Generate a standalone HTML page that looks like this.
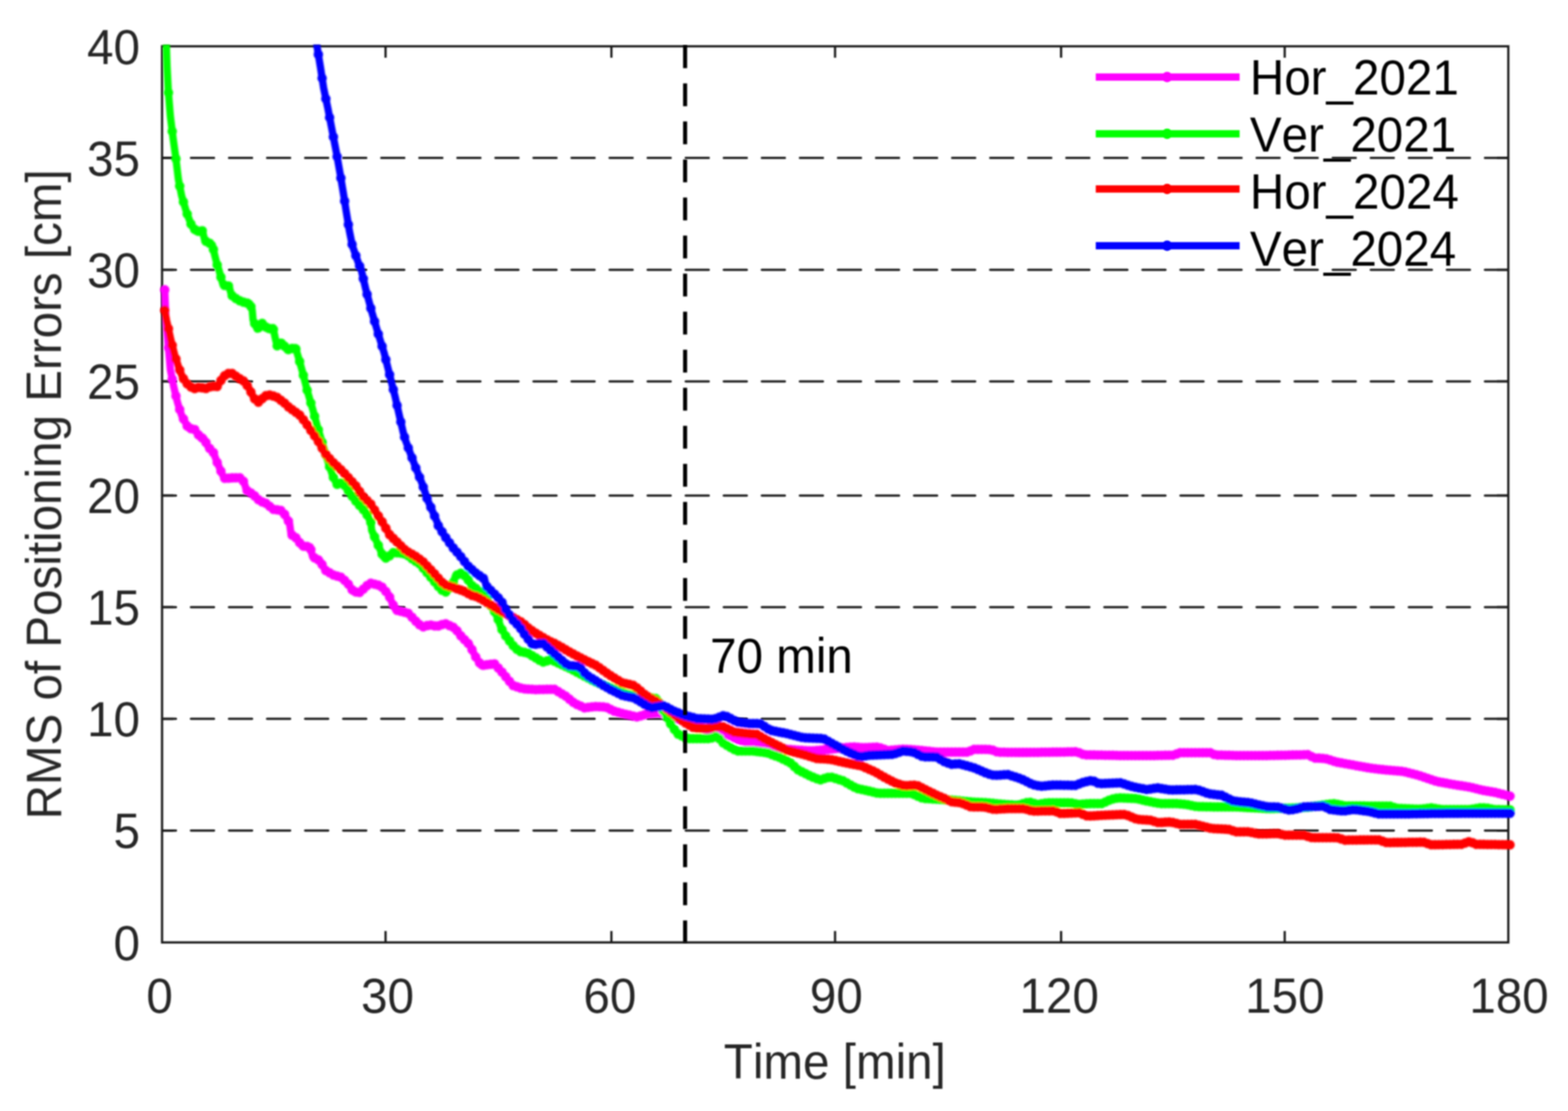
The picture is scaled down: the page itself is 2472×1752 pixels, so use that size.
<!DOCTYPE html>
<html lang="en">
<head>
<meta charset="utf-8">
<title>RMS of Positioning Errors</title>
<style>
html,body{margin:0;padding:0;background:#fff;}
body{width:2472px;height:1752px;overflow:hidden;}
svg{display:block;}
text{font-family:"Liberation Sans", sans-serif;font-size:75px;fill:#262626;font-kerning:none;font-variant-ligatures:none;}
.k{fill:#000;}
</style>
</head>
<body>
<svg width="2472" height="1752" viewBox="0 0 2472 1752">
<defs>
<clipPath id="plot"><rect x="243.5" y="70.5" width="2146.4" height="1425.2"/></clipPath>
<filter id="soft" x="0" y="0" width="2472" height="1752" filterUnits="userSpaceOnUse"><feGaussianBlur stdDeviation="1.0"/></filter>
<filter id="soft2" x="0" y="0" width="2472" height="1752" filterUnits="userSpaceOnUse"><feGaussianBlur stdDeviation="1.6"/></filter>
</defs>
<rect x="0" y="0" width="2472" height="1752" fill="#ffffff"/>
<g filter="url(#soft)">
<g stroke="#1a1a1a" stroke-width="3.5" fill="none">
<line x1="255.5" y1="1309.8" x2="2377.9" y2="1309.8" stroke-linecap="round" stroke-dasharray="36.5 23.5" stroke-dashoffset="14.5"/>
<line x1="255.5" y1="1133.6" x2="2377.9" y2="1133.6" stroke-linecap="round" stroke-dasharray="36.5 23.5" stroke-dashoffset="14.5"/>
<line x1="255.5" y1="957.4" x2="2377.9" y2="957.4" stroke-linecap="round" stroke-dasharray="36.5 23.5" stroke-dashoffset="14.5"/>
<line x1="255.5" y1="781.4" x2="2377.9" y2="781.4" stroke-linecap="round" stroke-dasharray="36.5 23.5" stroke-dashoffset="14.5"/>
<line x1="255.5" y1="601.4" x2="2377.9" y2="601.4" stroke-linecap="round" stroke-dasharray="36.5 23.5" stroke-dashoffset="14.5"/>
<line x1="255.5" y1="425.5" x2="2377.9" y2="425.5" stroke-linecap="round" stroke-dasharray="36.5 23.5" stroke-dashoffset="14.5"/>
<line x1="255.5" y1="249.0" x2="2377.9" y2="249.0" stroke-linecap="round" stroke-dasharray="36.5 23.5" stroke-dashoffset="14.5"/>
</g>
<g stroke="#1a1a1a" stroke-width="3.5" fill="none">
<line x1="607.8" y1="1486.2" x2="607.8" y2="1468.2"/>
<line x1="607.8" y1="73.0" x2="607.8" y2="91.0"/>
<line x1="963.9" y1="1486.2" x2="963.9" y2="1468.2"/>
<line x1="963.9" y1="73.0" x2="963.9" y2="91.0"/>
<line x1="1316.5" y1="1486.2" x2="1316.5" y2="1468.2"/>
<line x1="1316.5" y1="73.0" x2="1316.5" y2="91.0"/>
<line x1="1672.8" y1="1486.2" x2="1672.8" y2="1468.2"/>
<line x1="1672.8" y1="73.0" x2="1672.8" y2="91.0"/>
<line x1="2025.4" y1="1486.2" x2="2025.4" y2="1468.2"/>
<line x1="2025.4" y1="73.0" x2="2025.4" y2="91.0"/>
<line x1="255.5" y1="1309.8" x2="273.5" y2="1309.8"/>
<line x1="2377.9" y1="1309.8" x2="2359.9" y2="1309.8"/>
<line x1="255.5" y1="1133.6" x2="273.5" y2="1133.6"/>
<line x1="2377.9" y1="1133.6" x2="2359.9" y2="1133.6"/>
<line x1="255.5" y1="957.4" x2="273.5" y2="957.4"/>
<line x1="2377.9" y1="957.4" x2="2359.9" y2="957.4"/>
<line x1="255.5" y1="781.4" x2="273.5" y2="781.4"/>
<line x1="2377.9" y1="781.4" x2="2359.9" y2="781.4"/>
<line x1="255.5" y1="601.4" x2="273.5" y2="601.4"/>
<line x1="2377.9" y1="601.4" x2="2359.9" y2="601.4"/>
<line x1="255.5" y1="425.5" x2="273.5" y2="425.5"/>
<line x1="2377.9" y1="425.5" x2="2359.9" y2="425.5"/>
<line x1="255.5" y1="249.0" x2="273.5" y2="249.0"/>
<line x1="2377.9" y1="249.0" x2="2359.9" y2="249.0"/>
</g>
<rect x="255.5" y="73.0" width="2122.4" height="1413.2" fill="none" stroke="#1a1a1a" stroke-width="3.5"/>
</g>
<g filter="url(#soft2)"><g clip-path="url(#plot)" fill="none" stroke-linejoin="round" stroke-linecap="round">
<polyline stroke="#ff00ff" stroke-width="11.5" points="259.7,457.0 261.6,505.0 265.4,546.6 268.6,583.2 273.8,609.4 280.1,635.6 286.4,655.2 296.9,674.9 307.3,677.5 315.2,689.3 321.7,691.9 328.3,705.0 336.1,712.8 342.7,729.8 350.5,748.2 354.5,754.7 367.5,753.4 379.3,753.4 384.6,759.9 388.5,773.0 399.0,779.6 409.4,790.1 419.9,794.0 430.4,803.1 442.1,804.5 448.7,811.0 456.5,825.1 458.9,842.7 468.1,849.2 475.9,861.0 489.0,862.3 492.9,878.0 504.7,884.6 512.6,899.0 525.7,906.8 538.7,910.7 549.2,921.2 557.1,933.0 567.5,934.3 576.7,925.1 583.2,919.4 600.3,923.8 612.0,936.9 618.6,951.3 623.8,961.8 643.5,967.0 656.5,980.6 665.7,989.0 677.0,985.3 689.3,987.7 701.6,983.2 717.3,990.6 727.2,1003.7 740.3,1016.8 749.5,1035.1 758.6,1049.5 779.6,1046.9 792.7,1061.3 808.4,1080.9 824.1,1086.1 845.0,1087.4 873.8,1086.9 892.1,1097.9 907.9,1111.0 910.5,1111.0 920.9,1116.2 939.3,1114.1 955.0,1114.9 968.1,1121.5 983.8,1125.9 1004.7,1130.6 1020.4,1125.9 1038.7,1124.1 1083.2,1138.5 1122.5,1154.2 1148.7,1159.4 1161.8,1166.0 1174.9,1169.9 1188.0,1171.2 1201.0,1173.8 1240.3,1181.7 1279.6,1184.3 1318.8,1180.4 1345.0,1177.7 1358.1,1179.1 1384.3,1178.3 1400.0,1183.5 1426.2,1181.4 1452.4,1183.5 1478.5,1186.1 1525.7,1186.1 1536.1,1181.7 1562.3,1181.9 1572.8,1186.1 1609.4,1186.6 1661.8,1186.1 1698.4,1185.6 1708.9,1190.3 1766.5,1191.4 1818.8,1191.4 1850.3,1190.8 1860.7,1186.9 1907.9,1186.9 1915.7,1190.6 1949.7,1191.4 2000.0,1191.4 2029.1,1190.8 2063.1,1190.1 2071.0,1195.3 2089.3,1196.1 2107.6,1201.8 2133.8,1206.5 2160.0,1211.3 2186.1,1214.4 2212.3,1216.5 2238.5,1223.3 2264.7,1232.2 2290.8,1237.2 2317.0,1241.1 2338.0,1246.3 2356.3,1249.5 2380.6,1255.5"/>
<path stroke="#ff00ff" stroke-width="15.0" d="M259.7 457.0h0M265.6 548.5h0M271.5 597.9h0M277.4 624.4h0M283.3 645.7h0M289.2 660.6h0M295.1 671.7h0M301.1 675.9h0M307.0 677.4h0M312.9 685.8h0M318.8 690.7h0M324.7 697.8h0M330.6 707.3h0M336.5 713.8h0M342.4 729.2h0M348.3 743.0h0M354.2 754.3h0M360.1 754.1h0M366.0 753.6h0M371.9 753.4h0M377.9 753.4h0M383.8 759.0h0M389.7 773.8h0M395.6 777.5h0M401.5 782.1h0M407.4 788.0h0M413.3 791.5h0M419.2 793.7h0M425.1 798.5h0M431.0 803.2h0M436.9 803.9h0M442.8 805.1h0M448.7 811.1h0M454.7 821.7h0M460.6 843.9h0M466.5 848.1h0M472.4 855.7h0M478.3 861.2h0M484.2 861.8h0M490.1 866.7h0M496.0 879.7h0M501.9 883.0h0M507.8 890.3h0M513.7 899.7h0M519.6 903.2h0M525.6 906.7h0M531.5 908.5h0M537.4 910.3h0M543.3 915.3h0M549.2 921.2h0M555.1 930.0h0M561.0 933.5h0M566.9 934.2h0M572.8 929.0h0M578.7 923.4h0M584.6 919.7h0M590.5 921.3h0M596.4 922.8h0M602.4 926.1h0M608.3 932.7h0M614.2 941.6h0M620.1 954.3h0M626.0 962.4h0M631.9 963.9h0M637.8 965.5h0M643.7 967.3h0M649.6 973.4h0M655.5 979.6h0M661.4 985.1h0M667.3 988.5h0M673.2 986.6h0M679.2 985.8h0M685.1 986.9h0M691.0 987.1h0M696.9 984.9h0M702.8 983.8h0M708.7 986.6h0M714.6 989.3h0M720.5 994.8h0M726.4 1002.6h0M732.3 1008.8h0M738.2 1014.7h0M744.1 1024.4h0M750.0 1036.0h0M756.0 1045.3h0M761.9 1049.1h0M767.8 1048.3h0M773.7 1047.6h0M779.6 1046.9h0M785.5 1053.4h0M791.4 1059.9h0M797.3 1067.1h0M803.2 1074.4h0M809.1 1081.1h0M815.0 1083.1h0M820.9 1085.1h0M826.8 1086.3h0M832.8 1086.7h0M838.7 1087.0h0M844.6 1087.4h0M850.5 1087.3h0M856.4 1087.2h0M862.3 1087.1h0M868.2 1087.0h0M874.1 1087.1h0M880.0 1090.6h0M885.9 1094.2h0M891.8 1097.7h0M897.7 1102.6h0M903.7 1107.5h0M909.6 1111.0h0M915.5 1113.5h0M921.4 1116.2h0M927.3 1115.5h0M933.2 1114.8h0M939.1 1114.2h0M945.0 1114.4h0M950.9 1114.7h0M956.8 1115.8h0M962.7 1118.8h0M968.6 1121.6h0M974.5 1123.3h0M980.5 1125.0h0M986.4 1126.5h0M992.3 1127.8h0M998.2 1129.2h0M1004.1 1130.5h0M1010.0 1129.0h0M1015.9 1127.3h0M1021.8 1125.8h0M1027.7 1125.2h0M1033.6 1124.6h0M1039.5 1124.3h0M1045.4 1126.2h0M1051.3 1128.2h0M1057.3 1130.1h0M1063.2 1132.0h0M1069.1 1133.9h0M1075.0 1135.8h0M1080.9 1137.7h0M1086.8 1139.9h0M1092.7 1142.3h0M1098.6 1144.6h0M1104.5 1147.0h0M1110.4 1149.4h0M1116.3 1151.7h0M1122.2 1154.1h0M1128.1 1155.3h0M1134.1 1156.5h0M1140.0 1157.7h0M1145.9 1158.9h0M1151.8 1161.0h0M1157.7 1163.9h0M1163.6 1166.5h0M1169.5 1168.3h0M1175.4 1169.9h0M1181.3 1170.5h0M1187.2 1171.1h0M1193.1 1172.2h0M1199.0 1173.4h0M1204.9 1174.6h0M1210.9 1175.8h0M1216.8 1177.0h0M1222.7 1178.1h0M1228.6 1179.3h0M1234.5 1180.5h0M1240.4 1181.7h0M1246.3 1182.1h0M1252.2 1182.5h0M1258.1 1182.9h0M1264.0 1183.3h0M1269.9 1183.7h0M1275.8 1184.0h0M1281.7 1184.1h0M1287.7 1183.5h0M1293.6 1182.9h0M1299.5 1182.3h0M1305.4 1181.7h0M1311.3 1181.1h0M1317.2 1180.5h0M1323.1 1179.9h0M1329.0 1179.4h0M1334.9 1178.8h0M1340.8 1178.2h0M1346.7 1177.9h0M1352.6 1178.5h0M1358.6 1179.0h0M1364.5 1178.9h0M1370.4 1178.7h0M1376.3 1178.5h0M1382.2 1178.3h0M1388.1 1179.5h0M1394.0 1181.5h0M1399.9 1183.5h0M1405.8 1183.0h0M1411.7 1182.6h0M1417.6 1182.1h0M1423.5 1181.6h0M1429.4 1181.7h0M1435.4 1182.1h0M1441.3 1182.6h0M1447.2 1183.1h0M1453.1 1183.6h0M1459.0 1184.2h0M1464.9 1184.8h0M1470.8 1185.4h0M1476.7 1185.9h0M1482.6 1186.1h0M1488.5 1186.1h0M1494.4 1186.1h0M1500.3 1186.1h0M1506.2 1186.1h0M1512.2 1186.1h0M1518.1 1186.1h0M1524.0 1186.1h0M1529.9 1184.3h0M1535.8 1181.8h0M1541.7 1181.7h0M1547.6 1181.8h0M1553.5 1181.8h0M1559.4 1181.9h0M1565.3 1183.1h0M1571.2 1185.5h0M1577.1 1186.2h0M1583.0 1186.3h0M1589.0 1186.4h0M1594.9 1186.4h0M1600.8 1186.5h0M1606.7 1186.6h0M1612.6 1186.6h0M1618.5 1186.6h0M1624.4 1186.5h0M1630.3 1186.4h0M1636.2 1186.4h0M1642.1 1186.3h0M1648.0 1186.3h0M1653.9 1186.2h0M1659.8 1186.1h0M1665.8 1186.1h0M1671.7 1186.0h0M1677.6 1185.9h0M1683.5 1185.8h0M1689.4 1185.7h0M1695.3 1185.6h0M1701.2 1186.9h0M1707.1 1189.5h0M1713.0 1190.4h0M1718.9 1190.5h0M1724.8 1190.6h0M1730.7 1190.7h0M1736.6 1190.8h0M1742.6 1190.9h0M1748.5 1191.0h0M1754.4 1191.1h0M1760.3 1191.2h0M1766.2 1191.4h0M1772.1 1191.4h0M1778.0 1191.4h0M1783.9 1191.4h0M1789.8 1191.4h0M1795.7 1191.4h0M1801.6 1191.4h0M1807.5 1191.4h0M1813.5 1191.4h0M1819.4 1191.4h0M1825.3 1191.3h0M1831.2 1191.2h0M1837.1 1191.1h0M1843.0 1191.0h0M1848.9 1190.9h0M1854.8 1189.1h0M1860.7 1186.9h0M1866.6 1186.9h0M1872.5 1186.9h0M1878.4 1186.9h0M1884.3 1186.9h0M1890.3 1186.9h0M1896.2 1186.9h0M1902.1 1186.9h0M1908.0 1187.0h0M1913.9 1189.7h0M1919.8 1190.7h0M1925.7 1190.8h0M1931.6 1190.9h0M1937.5 1191.1h0M1943.4 1191.2h0M1949.3 1191.4h0M1955.2 1191.4h0M1961.1 1191.4h0M1967.1 1191.4h0M1973.0 1191.4h0M1978.9 1191.4h0M1984.8 1191.4h0M1990.7 1191.4h0M1996.6 1191.4h0M2002.5 1191.3h0M2008.4 1191.2h0M2014.3 1191.1h0M2020.2 1191.0h0M2026.1 1190.9h0M2032.0 1190.8h0M2037.9 1190.6h0M2043.9 1190.5h0M2049.8 1190.4h0M2055.7 1190.2h0M2061.6 1190.1h0M2067.5 1193.0h0M2073.4 1195.4h0M2079.3 1195.6h0M2085.2 1195.9h0M2091.1 1196.7h0M2097.0 1198.5h0M2102.9 1200.4h0M2108.8 1202.1h0M2114.7 1203.1h0M2120.7 1204.2h0M2126.6 1205.2h0M2132.5 1206.3h0M2138.4 1207.4h0M2144.3 1208.4h0M2150.2 1209.5h0M2156.1 1210.6h0M2162.0 1211.5h0M2167.9 1212.2h0M2173.8 1212.9h0M2179.7 1213.6h0M2185.6 1214.3h0M2191.6 1214.8h0M2197.5 1215.3h0M2203.4 1215.8h0M2209.3 1216.2h0M2215.2 1217.2h0M2221.1 1218.8h0M2227.0 1220.3h0M2232.9 1221.8h0M2238.8 1223.4h0M2244.7 1225.4h0M2250.6 1227.4h0M2256.5 1229.4h0M2262.4 1231.4h0M2268.4 1232.9h0M2274.3 1234.0h0M2280.2 1235.1h0M2286.1 1236.3h0M2292.0 1237.3h0M2297.9 1238.2h0M2303.8 1239.1h0M2309.7 1240.0h0M2315.6 1240.9h0M2321.5 1242.2h0M2327.4 1243.7h0M2333.3 1245.2h0M2339.2 1246.6h0M2345.2 1247.6h0M2351.1 1248.6h0M2357.0 1249.6h0M2362.9 1251.1h0M2368.8 1252.6h0M2374.7 1254.0h0M2380.6 1255.5h0"/>
<polyline stroke="#00ff00" stroke-width="11.5" points="261.8,39.3 262.3,72.5 263.4,104.7 265.4,144.0 268.6,183.2 272.8,217.3 277.2,248.7 281.2,282.7 286.4,308.9 294.2,335.1 302.1,356.0 309.9,365.2 319.1,363.9 323.0,379.6 334.8,386.1 338.7,403.1 342.7,418.8 345.3,426.2 351.8,449.7 361.0,451.0 364.9,465.4 375.4,473.3 385.9,477.2 393.7,478.5 397.6,489.0 399.0,504.7 405.5,519.1 413.4,509.9 422.5,519.1 430.4,516.5 434.3,534.8 436.9,545.3 444.8,540.1 452.6,551.8 465.7,547.9 470.9,564.9 477.5,588.5 484.0,614.7 493.2,646.1 501.0,674.9 508.9,701.0 516.8,727.2 524.6,750.8 531.2,763.9 540.3,761.3 558.6,787.4 577.0,808.4 584.8,824.1 585.9,836.1 596.3,859.7 604.2,878.0 609.4,880.6 619.9,871.5 630.4,872.0 640.8,874.1 650.0,881.4 661.8,889.3 674.9,905.0 688.0,920.9 695.8,930.4 703.7,933.8 714.1,919.9 718.1,908.1 725.9,903.7 735.1,909.4 742.9,922.5 753.4,930.4 766.5,943.5 779.6,964.4 784.8,974.9 790.1,990.6 797.9,1003.7 811.0,1020.7 818.8,1027.2 831.9,1029.8 845.0,1037.7 855.5,1044.2 868.6,1040.3 897.4,1053.4 936.6,1074.3 989.0,1095.3 1036.1,1101.8 1046.6,1122.8 1057.1,1141.1 1067.5,1156.8 1083.2,1164.7 1099.0,1164.7 1119.9,1164.7 1130.4,1160.7 1140.8,1172.5 1161.8,1184.3 1188.0,1184.3 1208.9,1186.9 1229.8,1194.8 1245.5,1202.6 1258.6,1214.4 1277.0,1223.6 1292.7,1230.1 1308.4,1224.9 1329.3,1231.4 1350.3,1243.2 1368.6,1247.1 1384.3,1251.0 1410.5,1251.0 1436.6,1251.0 1455.0,1258.9 1475.9,1260.2 1504.7,1262.0 1530.9,1264.7 1557.1,1266.0 1583.2,1268.6 1604.2,1269.9 1622.5,1264.7 1635.6,1268.6 1651.3,1266.0 1688.0,1266.0 1701.0,1268.6 1714.1,1267.3 1737.7,1267.3 1750.8,1260.7 1763.9,1258.1 1792.7,1259.4 1808.4,1263.4 1829.3,1267.3 1855.5,1267.3 1871.2,1268.6 1886.9,1272.0 1923.6,1272.5 1949.7,1272.5 2000.0,1275.1 2034.3,1274.3 2060.5,1273.0 2086.7,1269.4 2102.4,1267.3 2120.7,1270.9 2160.0,1271.2 2191.4,1271.2 2201.8,1274.6 2238.5,1276.2 2256.8,1274.1 2272.5,1276.7 2317.0,1276.7 2332.7,1274.1 2343.2,1274.1 2356.3,1276.7 2380.6,1277.2"/>
<path stroke="#00ff00" stroke-width="15.0" d="M265.6 146.0h0M271.5 207.0h0M277.4 250.4h0M283.3 293.6h0M289.2 318.4h0M295.1 337.5h0M301.1 353.2h0M307.0 361.7h0M312.9 364.8h0M318.8 363.9h0M324.7 380.5h0M330.6 383.8h0M336.5 393.4h0M342.4 417.8h0M348.3 437.1h0M354.2 450.1h0M360.1 450.9h0M366.0 466.3h0M371.9 470.7h0M377.9 474.2h0M383.8 476.4h0M389.7 477.9h0M395.6 483.5h0M401.5 510.3h0M407.4 516.9h0M413.3 510.0h0M419.2 515.8h0M425.1 518.2h0M431.0 519.6h0M436.9 545.3h0M442.8 541.3h0M448.7 546.0h0M454.7 551.2h0M460.6 549.4h0M466.5 550.4h0M472.4 570.1h0M478.3 591.7h0M484.2 615.2h0M490.1 635.5h0M496.0 656.4h0M501.9 677.8h0M507.8 697.5h0M513.7 717.2h0M519.6 735.9h0M525.6 752.7h0M531.5 763.8h0M537.4 762.1h0M543.3 765.5h0M549.2 773.9h0M555.1 782.4h0M561.0 790.1h0M566.9 796.9h0M572.8 803.6h0M578.7 811.9h0M584.6 823.7h0M590.5 846.6h0M596.4 859.9h0M602.4 873.7h0M608.3 880.0h0M614.2 876.5h0M620.1 871.5h0M626.0 871.8h0M631.9 872.3h0M637.8 873.5h0M643.7 876.4h0M649.6 881.1h0M655.5 885.1h0M661.4 889.0h0M667.3 895.9h0M673.2 903.0h0M679.2 910.2h0M685.1 917.4h0M691.0 924.6h0M696.9 930.8h0M702.8 933.4h0M708.7 927.1h0M714.6 918.5h0M720.5 906.7h0M726.4 904.0h0M732.3 907.7h0M738.2 914.7h0M744.1 923.4h0M750.0 927.8h0M756.0 932.9h0M761.9 938.8h0M767.8 945.5h0M773.7 955.0h0M779.6 964.4h0M785.5 976.9h0M791.4 992.8h0M797.3 1002.7h0M803.2 1010.6h0M809.1 1018.3h0M815.0 1024.0h0M820.9 1027.6h0M826.8 1028.8h0M832.8 1030.3h0M838.7 1033.9h0M844.6 1037.4h0M850.5 1041.1h0M856.4 1044.0h0M862.3 1042.2h0M868.2 1040.4h0M874.1 1042.8h0M880.0 1045.5h0M885.9 1048.2h0M891.8 1050.9h0M897.7 1053.6h0M903.7 1056.7h0M909.6 1059.9h0M915.5 1063.0h0M921.4 1066.2h0M927.3 1069.3h0M933.2 1072.5h0M939.1 1075.3h0M945.0 1077.7h0M950.9 1080.1h0M956.8 1082.4h0M962.7 1084.8h0M968.6 1087.1h0M974.5 1089.5h0M980.5 1091.9h0M986.4 1094.2h0M992.3 1095.7h0M998.2 1096.6h0M1004.1 1097.4h0M1010.0 1098.2h0M1015.9 1099.0h0M1021.8 1099.8h0M1027.7 1100.7h0M1033.6 1101.5h0M1039.5 1108.6h0M1045.4 1120.5h0M1051.3 1131.1h0M1057.3 1141.4h0M1063.2 1150.2h0M1069.1 1157.6h0M1075.0 1160.5h0M1080.9 1163.5h0M1086.8 1164.7h0M1092.7 1164.7h0M1098.6 1164.7h0M1104.5 1164.7h0M1110.4 1164.7h0M1116.3 1164.7h0M1122.2 1163.8h0M1128.1 1161.6h0M1134.1 1164.9h0M1140.0 1171.5h0M1145.9 1175.3h0M1151.8 1178.7h0M1157.7 1182.0h0M1163.6 1184.3h0M1169.5 1184.3h0M1175.4 1184.3h0M1181.3 1184.3h0M1187.2 1184.3h0M1193.1 1184.9h0M1199.0 1185.7h0M1204.9 1186.4h0M1210.9 1187.6h0M1216.8 1189.9h0M1222.7 1192.1h0M1228.6 1194.3h0M1234.5 1197.1h0M1240.4 1200.0h0M1246.3 1203.3h0M1252.2 1208.6h0M1258.1 1213.9h0M1264.0 1217.1h0M1269.9 1220.0h0M1275.8 1223.0h0M1281.7 1225.6h0M1287.7 1228.0h0M1293.6 1229.8h0M1299.5 1227.8h0M1305.4 1225.9h0M1311.3 1225.8h0M1317.2 1227.6h0M1323.1 1229.5h0M1329.0 1231.3h0M1334.9 1234.6h0M1340.8 1237.9h0M1346.7 1241.2h0M1352.6 1243.7h0M1358.6 1245.0h0M1364.5 1246.2h0M1370.4 1247.6h0M1376.3 1249.0h0M1382.2 1250.5h0M1388.1 1251.0h0M1394.0 1251.0h0M1399.9 1251.0h0M1405.8 1251.0h0M1411.7 1251.0h0M1417.6 1251.0h0M1423.5 1251.0h0M1429.4 1251.0h0M1435.4 1251.0h0M1441.3 1253.0h0M1447.2 1255.6h0M1453.1 1258.1h0M1459.0 1259.2h0M1464.9 1259.5h0M1470.8 1259.9h0M1476.7 1260.3h0M1482.6 1260.6h0M1488.5 1261.0h0M1494.4 1261.4h0M1500.3 1261.8h0M1506.2 1262.2h0M1512.2 1262.8h0M1518.1 1263.4h0M1524.0 1264.0h0M1529.9 1264.6h0M1535.8 1264.9h0M1541.7 1265.2h0M1547.6 1265.5h0M1553.5 1265.8h0M1559.4 1266.2h0M1565.3 1266.8h0M1571.2 1267.4h0M1577.1 1268.0h0M1583.0 1268.6h0M1589.0 1268.9h0M1594.9 1269.3h0M1600.8 1269.7h0M1606.7 1269.2h0M1612.6 1267.5h0M1618.5 1265.8h0M1624.4 1265.2h0M1630.3 1267.0h0M1636.2 1268.5h0M1642.1 1267.5h0M1648.0 1266.5h0M1653.9 1266.0h0M1659.8 1266.0h0M1665.8 1266.0h0M1671.7 1266.0h0M1677.6 1266.0h0M1683.5 1266.0h0M1689.4 1266.3h0M1695.3 1267.4h0M1701.2 1268.6h0M1707.1 1268.0h0M1713.0 1267.4h0M1718.9 1267.3h0M1724.8 1267.3h0M1730.7 1267.3h0M1736.6 1267.3h0M1742.6 1264.8h0M1748.5 1261.9h0M1754.4 1260.0h0M1760.3 1258.8h0M1766.2 1258.2h0M1772.1 1258.5h0M1778.0 1258.8h0M1783.9 1259.0h0M1789.8 1259.3h0M1795.7 1260.2h0M1801.6 1261.7h0M1807.5 1263.1h0M1813.5 1264.3h0M1819.4 1265.4h0M1825.3 1266.5h0M1831.2 1267.3h0M1837.1 1267.3h0M1843.0 1267.3h0M1848.9 1267.3h0M1854.8 1267.3h0M1860.7 1267.7h0M1866.6 1268.2h0M1872.5 1268.9h0M1878.4 1270.2h0M1884.3 1271.4h0M1890.3 1272.0h0M1896.2 1272.1h0M1902.1 1272.2h0M1908.0 1272.3h0M1913.9 1272.4h0M1919.8 1272.5h0M1925.7 1272.5h0M1931.6 1272.5h0M1937.5 1272.5h0M1943.4 1272.5h0M1949.3 1272.5h0M1955.2 1272.8h0M1961.1 1273.1h0M1967.1 1273.4h0M1973.0 1273.7h0M1978.9 1274.0h0M1984.8 1274.3h0M1990.7 1274.6h0M1996.6 1275.0h0M2002.5 1275.1h0M2008.4 1274.9h0M2014.3 1274.8h0M2020.2 1274.7h0M2026.1 1274.5h0M2032.0 1274.4h0M2037.9 1274.2h0M2043.9 1273.9h0M2049.8 1273.6h0M2055.7 1273.3h0M2061.6 1272.9h0M2067.5 1272.1h0M2073.4 1271.2h0M2079.3 1270.4h0M2085.2 1269.6h0M2091.1 1268.8h0M2097.0 1268.0h0M2102.9 1267.4h0M2108.8 1268.6h0M2114.7 1269.8h0M2120.7 1270.9h0M2126.6 1271.0h0M2132.5 1271.0h0M2138.4 1271.1h0M2144.3 1271.1h0M2150.2 1271.1h0M2156.1 1271.2h0M2162.0 1271.2h0M2167.9 1271.2h0M2173.8 1271.2h0M2179.7 1271.2h0M2185.6 1271.2h0M2191.6 1271.3h0M2197.5 1273.2h0M2203.4 1274.7h0M2209.3 1274.9h0M2215.2 1275.2h0M2221.1 1275.4h0M2227.0 1275.7h0M2232.9 1275.9h0M2238.8 1276.1h0M2244.7 1275.5h0M2250.6 1274.8h0M2256.5 1274.1h0M2262.4 1275.0h0M2268.4 1276.0h0M2274.3 1276.7h0M2280.2 1276.7h0M2286.1 1276.7h0M2292.0 1276.7h0M2297.9 1276.7h0M2303.8 1276.7h0M2309.7 1276.7h0M2315.6 1276.7h0M2321.5 1276.0h0M2327.4 1275.0h0M2333.3 1274.1h0M2339.2 1274.1h0M2345.2 1274.5h0M2351.1 1275.7h0M2357.0 1276.7h0M2362.9 1276.8h0M2368.8 1277.0h0M2374.7 1277.1h0M2380.6 1277.2h0"/>
<polyline stroke="#ff0000" stroke-width="11.5" points="259.7,489.3 262.5,505.0 264.9,515.2 269.4,536.1 275.4,559.7 281.7,579.3 288.0,595.3 295.3,605.5 304.7,613.4 315.2,610.2 323.0,613.4 333.5,608.9 342.7,609.4 351.3,595.0 358.4,589.0 366.2,589.0 375.4,595.8 385.9,602.1 393.2,613.4 400.3,627.7 408.1,634.8 416.0,625.7 422.5,622.5 435.6,625.7 448.7,635.6 455.2,642.1 472.3,654.5 481.4,665.7 491.9,681.4 501.0,694.5 512.8,715.4 524.6,728.8 540.3,743.5 561.3,766.5 571.7,782.2 584.8,795.3 603.1,824.1 614.7,844.0 625.1,853.9 640.1,868.8 653.9,876.4 666.2,885.1 681.4,901.0 696.3,917.8 703.7,923.0 714.1,926.2 731.7,932.2 742.9,938.7 751.3,940.8 761.3,946.1 770.9,952.4 788.0,962.6 805.8,972.3 823.3,981.7 834.6,991.9 849.5,1001.6 866.0,1011.0 875.7,1015.2 901.8,1030.4 920.9,1040.3 940.1,1049.5 960.2,1063.9 980.1,1076.4 1000.0,1081.2 1017.8,1096.6 1036.1,1106.5 1057.1,1122.8 1078.0,1138.5 1093.7,1147.6 1114.7,1149.0 1130.4,1145.0 1140.8,1146.3 1156.5,1154.2 1174.9,1156.8 1193.2,1158.1 1208.9,1167.3 1224.6,1175.1 1240.3,1183.0 1266.5,1189.5 1287.4,1196.1 1308.4,1197.4 1331.9,1202.6 1358.1,1207.9 1379.1,1217.0 1397.4,1227.5 1413.1,1235.3 1426.2,1239.3 1444.5,1238.0 1460.2,1245.8 1475.9,1253.7 1500.0,1264.1 1515.2,1266.0 1530.9,1272.5 1551.8,1272.5 1567.5,1276.4 1588.5,1275.1 1614.7,1275.1 1627.7,1279.1 1661.8,1278.5 1672.3,1283.0 1701.0,1281.7 1714.1,1286.9 1740.3,1285.6 1774.3,1284.3 1792.7,1292.1 1813.6,1293.5 1826.7,1297.4 1845.0,1296.1 1860.7,1300.0 1884.3,1300.0 1910.5,1306.5 1936.6,1307.9 1949.7,1311.8 1968.1,1311.8 1983.8,1314.9 2000.0,1314.9 2013.4,1314.4 2026.5,1317.0 2055.2,1317.0 2068.3,1320.9 2107.6,1320.9 2120.7,1324.9 2173.0,1324.3 2186.1,1328.8 2243.7,1328.0 2256.8,1332.2 2303.9,1331.4 2317.0,1327.0 2327.5,1331.4 2380.6,1332.2"/>
<path stroke="#ff0000" stroke-width="15.0" d="M259.7 489.3h0M265.6 518.4h0M271.5 544.5h0M277.4 566.0h0M283.3 583.5h0M289.2 597.1h0M295.1 605.3h0M301.1 610.3h0M307.0 612.7h0M312.9 610.9h0M318.8 611.6h0M324.7 612.6h0M330.6 610.1h0M336.5 609.1h0M342.4 609.4h0M348.3 600.0h0M354.2 592.5h0M360.1 589.0h0M366.0 589.0h0M371.9 593.3h0M377.9 597.3h0M383.8 600.8h0M389.7 607.9h0M395.6 618.2h0M401.5 628.9h0M407.4 634.2h0M413.3 628.8h0M419.2 624.1h0M425.1 623.1h0M431.0 624.6h0M436.9 626.7h0M442.8 631.2h0M448.7 635.7h0M454.7 641.6h0M460.6 646.0h0M466.5 650.3h0M472.4 654.6h0M478.3 661.9h0M484.2 669.9h0M490.1 678.7h0M496.0 687.3h0M501.9 696.1h0M507.8 706.6h0M513.7 716.5h0M519.6 723.2h0M525.6 729.7h0M531.5 735.2h0M537.4 740.7h0M543.3 746.7h0M549.2 753.2h0M555.1 759.7h0M561.0 766.2h0M566.9 775.0h0M572.8 783.3h0M578.7 789.2h0M584.6 795.1h0M590.5 804.3h0M596.4 813.6h0M602.4 822.8h0M608.3 832.9h0M614.2 843.1h0M620.1 849.1h0M626.0 854.8h0M631.9 860.7h0M637.8 866.6h0M643.7 870.8h0M649.6 874.1h0M655.5 877.6h0M661.4 881.7h0M667.3 886.2h0M673.2 892.5h0M679.2 898.7h0M685.1 905.1h0M691.0 911.8h0M696.9 918.2h0M702.8 922.4h0M708.7 924.5h0M714.6 926.3h0M720.5 928.4h0M726.4 930.4h0M732.3 932.6h0M738.2 936.0h0M744.1 939.0h0M750.0 940.5h0M756.0 943.3h0M761.9 946.5h0M767.8 950.3h0M773.7 954.0h0M779.6 957.5h0M785.5 961.1h0M791.4 964.4h0M797.3 967.7h0M803.2 970.9h0M809.1 974.1h0M815.0 977.2h0M820.9 980.4h0M826.8 984.9h0M832.8 990.3h0M838.7 994.6h0M844.6 998.4h0M850.5 1002.1h0M856.4 1005.5h0M862.3 1008.9h0M868.2 1012.0h0M874.1 1014.5h0M880.0 1017.7h0M885.9 1021.1h0M891.8 1024.6h0M897.7 1028.0h0M903.7 1031.3h0M909.6 1034.4h0M915.5 1037.5h0M921.4 1040.5h0M927.3 1043.4h0M933.2 1046.2h0M939.1 1049.0h0M945.0 1053.0h0M950.9 1057.2h0M956.8 1061.5h0M962.7 1065.5h0M968.6 1069.2h0M974.5 1072.9h0M980.5 1076.5h0M986.4 1077.9h0M992.3 1079.3h0M998.2 1080.7h0M1004.1 1084.7h0M1010.0 1089.8h0M1015.9 1094.9h0M1021.8 1098.8h0M1027.7 1102.0h0M1033.6 1105.2h0M1039.5 1109.2h0M1045.4 1113.8h0M1051.3 1118.3h0M1057.3 1122.9h0M1063.2 1127.3h0M1069.1 1131.8h0M1075.0 1136.2h0M1080.9 1140.2h0M1086.8 1143.6h0M1092.7 1147.1h0M1098.6 1147.9h0M1104.5 1148.3h0M1110.4 1148.7h0M1116.3 1148.5h0M1122.2 1147.1h0M1128.1 1145.6h0M1134.1 1145.5h0M1140.0 1146.2h0M1145.9 1148.9h0M1151.8 1151.8h0M1157.7 1154.4h0M1163.6 1155.2h0M1169.5 1156.0h0M1175.4 1156.8h0M1181.3 1157.3h0M1187.2 1157.7h0M1193.1 1158.1h0M1199.0 1161.5h0M1204.9 1165.0h0M1210.9 1168.3h0M1216.8 1171.2h0M1222.7 1174.2h0M1228.6 1177.1h0M1234.5 1180.1h0M1240.4 1183.0h0M1246.3 1184.5h0M1252.2 1186.0h0M1258.1 1187.4h0M1264.0 1188.9h0M1269.9 1190.6h0M1275.8 1192.5h0M1281.7 1194.3h0M1287.7 1196.1h0M1293.6 1196.5h0M1299.5 1196.8h0M1305.4 1197.2h0M1311.3 1198.0h0M1317.2 1199.3h0M1323.1 1200.7h0M1329.0 1202.0h0M1334.9 1203.2h0M1340.8 1204.4h0M1346.7 1205.6h0M1352.6 1206.8h0M1358.6 1208.0h0M1364.5 1210.6h0M1370.4 1213.2h0M1376.3 1215.8h0M1382.2 1218.8h0M1388.1 1222.2h0M1394.0 1225.6h0M1399.9 1228.7h0M1405.8 1231.7h0M1411.7 1234.7h0M1417.6 1236.7h0M1423.5 1238.5h0M1429.4 1239.0h0M1435.4 1238.6h0M1441.3 1238.2h0M1447.2 1239.3h0M1453.1 1242.2h0M1459.0 1245.2h0M1464.9 1248.2h0M1470.8 1251.1h0M1476.7 1254.0h0M1482.6 1256.6h0M1488.5 1259.1h0M1494.4 1261.7h0M1500.3 1264.2h0M1506.2 1264.9h0M1512.2 1265.6h0M1518.1 1267.2h0M1524.0 1269.6h0M1529.9 1272.1h0M1535.8 1272.5h0M1541.7 1272.5h0M1547.6 1272.5h0M1553.5 1272.9h0M1559.4 1274.4h0M1565.3 1275.9h0M1571.2 1276.2h0M1577.1 1275.8h0M1583.0 1275.5h0M1589.0 1275.1h0M1594.9 1275.1h0M1600.8 1275.1h0M1606.7 1275.1h0M1612.6 1275.1h0M1618.5 1276.3h0M1624.4 1278.1h0M1630.3 1279.0h0M1636.2 1278.9h0M1642.1 1278.8h0M1648.0 1278.7h0M1653.9 1278.7h0M1659.8 1278.6h0M1665.8 1280.2h0M1671.7 1282.7h0M1677.6 1282.7h0M1683.5 1282.5h0M1689.4 1282.2h0M1695.3 1281.9h0M1701.2 1281.7h0M1707.1 1284.1h0M1713.0 1286.5h0M1718.9 1286.7h0M1724.8 1286.4h0M1730.7 1286.1h0M1736.6 1285.8h0M1742.6 1285.5h0M1748.5 1285.3h0M1754.4 1285.1h0M1760.3 1284.8h0M1766.2 1284.6h0M1772.1 1284.4h0M1778.0 1285.9h0M1783.9 1288.4h0M1789.8 1290.9h0M1795.7 1292.3h0M1801.6 1292.7h0M1807.5 1293.1h0M1813.5 1293.4h0M1819.4 1295.2h0M1825.3 1297.0h0M1831.2 1297.1h0M1837.1 1296.6h0M1843.0 1296.2h0M1848.9 1297.0h0M1854.8 1298.5h0M1860.7 1300.0h0M1866.6 1300.0h0M1872.5 1300.0h0M1878.4 1300.0h0M1884.3 1300.0h0M1890.3 1301.5h0M1896.2 1303.0h0M1902.1 1304.4h0M1908.0 1305.9h0M1913.9 1306.7h0M1919.8 1307.0h0M1925.7 1307.3h0M1931.6 1307.6h0M1937.5 1308.1h0M1943.4 1309.9h0M1949.3 1311.7h0M1955.2 1311.8h0M1961.1 1311.8h0M1967.1 1311.8h0M1973.0 1312.8h0M1978.9 1313.9h0M1984.8 1314.9h0M1990.7 1314.9h0M1996.6 1314.9h0M2002.5 1314.8h0M2008.4 1314.6h0M2014.3 1314.6h0M2020.2 1315.8h0M2026.1 1317.0h0M2032.0 1317.0h0M2037.9 1317.0h0M2043.9 1317.0h0M2049.8 1317.0h0M2055.7 1317.1h0M2061.6 1318.9h0M2067.5 1320.7h0M2073.4 1320.9h0M2079.3 1320.9h0M2085.2 1320.9h0M2091.1 1320.9h0M2097.0 1320.9h0M2102.9 1320.9h0M2108.8 1321.3h0M2114.7 1323.1h0M2120.7 1324.9h0M2126.6 1324.8h0M2132.5 1324.8h0M2138.4 1324.7h0M2144.3 1324.6h0M2150.2 1324.6h0M2156.1 1324.5h0M2162.0 1324.5h0M2167.9 1324.4h0M2173.8 1324.6h0M2179.7 1326.6h0M2185.6 1328.6h0M2191.6 1328.7h0M2197.5 1328.6h0M2203.4 1328.6h0M2209.3 1328.5h0M2215.2 1328.4h0M2221.1 1328.3h0M2227.0 1328.2h0M2232.9 1328.2h0M2238.8 1328.1h0M2244.7 1328.3h0M2250.6 1330.2h0M2256.5 1332.1h0M2262.4 1332.1h0M2268.4 1332.0h0M2274.3 1331.9h0M2280.2 1331.8h0M2286.1 1331.7h0M2292.0 1331.6h0M2297.9 1331.5h0M2303.8 1331.4h0M2309.7 1329.5h0M2315.6 1327.4h0M2321.5 1328.9h0M2327.4 1331.4h0M2333.3 1331.5h0M2339.2 1331.6h0M2345.2 1331.7h0M2351.1 1331.8h0M2357.0 1331.8h0M2362.9 1331.9h0M2368.8 1332.0h0M2374.7 1332.1h0M2380.6 1332.2h0"/>
<polyline stroke="#0000ff" stroke-width="11.5" points="494.5,39.3 499.7,72.5 505.0,104.7 510.2,138.7 516.8,170.2 523.3,204.2 530.4,240.8 536.4,274.9 541.6,306.3 546.1,335.1 550.8,363.9 555.5,387.4 566.5,418.8 569.1,423.6 577.0,457.6 586.1,491.6 595.3,523.0 605.8,557.1 614.9,593.7 622.8,625.1 629.3,653.9 635.9,682.7 639.8,695.8 647.6,716.8 655.5,737.7 666.0,763.9 673.8,787.4 681.7,805.8 689.5,824.1 690.6,828.3 701.0,845.3 714.1,863.6 724.6,875.4 737.7,892.4 750.8,904.2 763.9,913.4 766.5,923.8 779.6,936.9 790.1,947.4 797.9,961.8 808.4,977.5 818.8,988.0 829.3,1003.7 839.8,1016.8 855.5,1014.1 868.6,1025.9 881.7,1037.7 894.8,1049.5 913.1,1050.8 923.6,1063.9 944.5,1077.0 962.8,1087.4 981.2,1096.6 1000.0,1100.5 1012.6,1108.4 1025.7,1116.2 1046.6,1112.8 1062.3,1121.5 1080.6,1128.5 1099.0,1133.2 1125.1,1134.3 1142.1,1128.0 1161.8,1138.5 1182.7,1141.1 1198.4,1141.1 1214.1,1151.6 1240.3,1156.8 1266.5,1163.4 1297.9,1164.7 1318.8,1176.4 1339.8,1186.9 1355.5,1193.5 1371.2,1190.8 1407.9,1189.5 1423.6,1184.3 1439.3,1185.6 1455.0,1193.5 1475.9,1193.5 1489.0,1201.3 1500.0,1205.2 1512.6,1204.5 1536.1,1211.0 1557.1,1220.2 1567.5,1222.8 1588.5,1221.5 1609.4,1228.0 1627.7,1237.2 1640.8,1239.8 1661.8,1238.0 1695.8,1238.5 1708.9,1233.2 1722.0,1230.6 1732.5,1235.9 1766.5,1234.6 1787.4,1241.1 1808.4,1245.0 1824.1,1242.4 1845.0,1245.8 1886.9,1245.0 1905.2,1251.6 1926.2,1254.2 1944.5,1263.4 1970.7,1266.0 1986.4,1269.9 2000.0,1272.5 2013.4,1272.5 2034.3,1277.7 2055.2,1272.5 2086.7,1271.2 2097.1,1276.4 2118.1,1279.1 2133.8,1276.4 2160.0,1279.8 2173.0,1283.5 2212.3,1283.5 2264.7,1282.7 2317.0,1282.5 2380.6,1282.5"/>
<path stroke="#0000ff" stroke-width="15.0" d="M501.9 85.9h0M507.8 123.3h0M513.7 155.7h0M519.6 185.2h0M525.6 215.9h0M531.5 247.0h0M537.4 280.7h0M543.3 317.0h0M549.2 354.1h0M555.1 385.4h0M561.0 403.1h0M566.9 419.6h0M572.8 439.6h0M578.7 464.1h0M584.6 486.1h0M590.5 506.7h0M596.4 526.8h0M602.4 546.0h0M608.3 567.1h0M614.2 590.7h0M620.1 614.3h0M626.0 639.2h0M631.9 665.2h0M637.8 689.2h0M643.7 706.3h0M649.6 722.0h0M655.5 737.8h0M661.4 752.5h0M667.3 768.0h0M673.2 785.7h0M679.2 799.9h0M685.1 813.7h0M691.0 828.9h0M696.9 838.5h0M702.8 847.7h0M708.7 856.0h0M714.6 864.1h0M720.5 870.8h0M726.4 877.7h0M732.3 885.4h0M738.2 892.9h0M744.1 898.2h0M750.0 903.5h0M756.0 907.8h0M761.9 911.9h0M767.8 925.1h0M773.7 931.0h0M779.6 936.9h0M785.5 942.8h0M791.4 949.9h0M797.3 960.7h0M803.2 969.7h0M809.1 978.2h0M815.0 984.1h0M820.9 991.1h0M826.8 1000.0h0M832.8 1008.0h0M838.7 1015.3h0M844.6 1016.0h0M850.5 1015.0h0M856.4 1014.9h0M862.3 1020.3h0M868.2 1025.6h0M874.1 1030.9h0M880.0 1036.2h0M885.9 1041.5h0M891.8 1046.8h0M897.7 1049.7h0M903.7 1050.1h0M909.6 1050.5h0M915.5 1053.8h0M921.4 1061.1h0M927.3 1066.2h0M933.2 1069.9h0M939.1 1073.6h0M945.0 1077.3h0M950.9 1080.6h0M956.8 1084.0h0M962.7 1087.4h0M968.6 1090.3h0M974.5 1093.3h0M980.5 1096.2h0M986.4 1097.7h0M992.3 1098.9h0M998.2 1100.1h0M1004.1 1103.1h0M1010.0 1106.8h0M1015.9 1110.4h0M1021.8 1113.9h0M1027.7 1115.9h0M1033.6 1114.9h0M1039.5 1114.0h0M1045.4 1113.0h0M1051.3 1115.4h0M1057.3 1118.7h0M1063.2 1121.8h0M1069.1 1124.1h0M1075.0 1126.4h0M1080.9 1128.6h0M1086.8 1130.1h0M1092.7 1131.6h0M1098.6 1133.2h0M1104.5 1133.5h0M1110.4 1133.7h0M1116.3 1133.9h0M1122.2 1134.2h0M1128.1 1133.2h0M1134.1 1131.0h0M1140.0 1128.8h0M1145.9 1130.0h0M1151.8 1133.1h0M1157.7 1136.3h0M1163.6 1138.7h0M1169.5 1139.4h0M1175.4 1140.2h0M1181.3 1140.9h0M1187.2 1141.1h0M1193.1 1141.1h0M1199.0 1141.5h0M1204.9 1145.4h0M1210.9 1149.4h0M1216.8 1152.1h0M1222.7 1153.3h0M1228.6 1154.5h0M1234.5 1155.6h0M1240.4 1156.8h0M1246.3 1158.3h0M1252.2 1159.8h0M1258.1 1161.3h0M1264.0 1162.7h0M1269.9 1163.5h0M1275.8 1163.7h0M1281.7 1164.0h0M1287.7 1164.2h0M1293.6 1164.5h0M1299.5 1165.5h0M1305.4 1168.9h0M1311.3 1172.2h0M1317.2 1175.5h0M1323.1 1178.6h0M1329.0 1181.5h0M1334.9 1184.5h0M1340.8 1187.3h0M1346.7 1189.8h0M1352.6 1192.3h0M1358.6 1192.9h0M1364.5 1192.0h0M1370.4 1191.0h0M1376.3 1190.7h0M1382.2 1190.4h0M1388.1 1190.2h0M1394.0 1190.0h0M1399.9 1189.8h0M1405.8 1189.6h0M1411.7 1188.2h0M1417.6 1186.3h0M1423.5 1184.3h0M1429.4 1184.8h0M1435.4 1185.3h0M1441.3 1186.6h0M1447.2 1189.6h0M1453.1 1192.5h0M1459.0 1193.5h0M1464.9 1193.5h0M1470.8 1193.5h0M1476.7 1193.9h0M1482.6 1197.5h0M1488.5 1201.0h0M1494.4 1203.2h0M1500.3 1205.2h0M1506.2 1204.8h0M1512.2 1204.5h0M1518.1 1206.0h0M1524.0 1207.6h0M1529.9 1209.3h0M1535.8 1210.9h0M1541.7 1213.4h0M1547.6 1216.0h0M1553.5 1218.6h0M1559.4 1220.7h0M1565.3 1222.2h0M1571.2 1222.5h0M1577.1 1222.2h0M1583.0 1221.8h0M1589.0 1221.6h0M1594.9 1223.5h0M1600.8 1225.3h0M1606.7 1227.2h0M1612.6 1229.6h0M1618.5 1232.5h0M1624.4 1235.5h0M1630.3 1237.7h0M1636.2 1238.9h0M1642.1 1239.7h0M1648.0 1239.2h0M1653.9 1238.6h0M1659.8 1238.1h0M1665.8 1238.0h0M1671.7 1238.1h0M1677.6 1238.2h0M1683.5 1238.3h0M1689.4 1238.4h0M1695.3 1238.5h0M1701.2 1236.3h0M1707.1 1234.0h0M1713.0 1232.4h0M1718.9 1231.2h0M1724.8 1232.1h0M1730.7 1235.0h0M1736.6 1235.7h0M1742.6 1235.5h0M1748.5 1235.2h0M1754.4 1235.0h0M1760.3 1234.8h0M1766.2 1234.6h0M1772.1 1236.3h0M1778.0 1238.2h0M1783.9 1240.0h0M1789.8 1241.5h0M1795.7 1242.7h0M1801.6 1243.8h0M1807.5 1244.9h0M1813.5 1244.2h0M1819.4 1243.2h0M1825.3 1242.6h0M1831.2 1243.6h0M1837.1 1244.5h0M1843.0 1245.5h0M1848.9 1245.7h0M1854.8 1245.6h0M1860.7 1245.5h0M1866.6 1245.4h0M1872.5 1245.3h0M1878.4 1245.2h0M1884.3 1245.1h0M1890.3 1246.2h0M1896.2 1248.3h0M1902.1 1250.4h0M1908.0 1251.9h0M1913.9 1252.7h0M1919.8 1253.4h0M1925.7 1254.1h0M1931.6 1256.9h0M1937.5 1259.9h0M1943.4 1262.8h0M1949.3 1263.8h0M1955.2 1264.4h0M1961.1 1265.0h0M1967.1 1265.6h0M1973.0 1266.5h0M1978.9 1268.0h0M1984.8 1269.5h0M1990.7 1270.7h0M1996.6 1271.9h0M2002.5 1272.5h0M2008.4 1272.5h0M2014.3 1272.8h0M2020.2 1274.2h0M2026.1 1275.7h0M2032.0 1277.2h0M2037.9 1276.8h0M2043.9 1275.4h0M2049.8 1273.9h0M2055.7 1272.5h0M2061.6 1272.2h0M2067.5 1272.0h0M2073.4 1271.8h0M2079.3 1271.5h0M2085.2 1271.3h0M2091.1 1273.4h0M2097.0 1276.4h0M2102.9 1277.2h0M2108.8 1277.9h0M2114.7 1278.6h0M2120.7 1278.6h0M2126.6 1277.6h0M2132.5 1276.7h0M2138.4 1277.0h0M2144.3 1277.8h0M2150.2 1278.6h0M2156.1 1279.3h0M2162.0 1280.4h0M2167.9 1282.1h0M2173.8 1283.5h0M2179.7 1283.5h0M2185.6 1283.5h0M2191.6 1283.5h0M2197.5 1283.5h0M2203.4 1283.5h0M2209.3 1283.5h0M2215.2 1283.5h0M2221.1 1283.4h0M2227.0 1283.3h0M2232.9 1283.2h0M2238.8 1283.1h0M2244.7 1283.0h0M2250.6 1282.9h0M2256.5 1282.8h0M2262.4 1282.8h0M2268.4 1282.7h0M2274.3 1282.7h0M2280.2 1282.6h0M2286.1 1282.6h0M2292.0 1282.6h0M2297.9 1282.6h0M2303.8 1282.5h0M2309.7 1282.5h0M2315.6 1282.5h0M2321.5 1282.5h0M2327.4 1282.5h0M2333.3 1282.5h0M2339.2 1282.5h0M2345.2 1282.5h0M2351.1 1282.5h0M2357.0 1282.5h0M2362.9 1282.5h0M2368.8 1282.5h0M2374.7 1282.5h0M2380.6 1282.5h0"/>
</g></g>
<g filter="url(#soft)">
<line x1="1080.1" y1="71.5" x2="1080.1" y2="1486.2" stroke="#000" stroke-width="6.4" stroke-dasharray="36 24"/>
<text class="k" transform="translate(1119.5,1061.3) scale(1,1.035)">70 min</text>
<text transform="translate(251.6,1597.3) scale(1,1.035)" text-anchor="middle">0</text>
<text transform="translate(610.9,1597.3) scale(1,1.035)" text-anchor="middle">30</text>
<text transform="translate(961.5,1597.3) scale(1,1.035)" text-anchor="middle">60</text>
<text transform="translate(1318.4,1597.3) scale(1,1.035)" text-anchor="middle">90</text>
<text transform="translate(1669.8,1597.3) scale(1,1.035)" text-anchor="middle">120</text>
<text transform="translate(2025.6,1597.3) scale(1,1.035)" text-anchor="middle">150</text>
<text transform="translate(2379.0,1597.3) scale(1,1.035)" text-anchor="middle">180</text>
<text transform="translate(220.7,1513.8) scale(1,1.035)" text-anchor="end">0</text>
<text transform="translate(220.7,1337.4) scale(1,1.035)" text-anchor="end">5</text>
<text transform="translate(220.7,1161.2) scale(1,1.035)" text-anchor="end">10</text>
<text transform="translate(220.7,985.0) scale(1,1.035)" text-anchor="end">15</text>
<text transform="translate(220.7,809.0) scale(1,1.035)" text-anchor="end">20</text>
<text transform="translate(220.7,629.0) scale(1,1.035)" text-anchor="end">25</text>
<text transform="translate(220.7,453.1) scale(1,1.035)" text-anchor="end">30</text>
<text transform="translate(220.7,276.6) scale(1,1.035)" text-anchor="end">35</text>
<text transform="translate(220.7,100.6) scale(1,1.035)" text-anchor="end">40</text>
<text transform="translate(1316.1,1700.6) scale(1,1.035)" text-anchor="middle">Time [min]</text>
<text transform="translate(96.4,779.6) rotate(-90) scale(1,1.035)" text-anchor="middle">RMS of Positioning Errors [cm]</text>
<line x1="1727.5" y1="121.5" x2="1954.3" y2="121.5" stroke="#ff00ff" stroke-width="11.5"/>
<circle cx="1840" cy="121.5" r="8.2" fill="#ff00ff"/>
<text class="k" transform="translate(1970.5,149.3) scale(1,1.035)">Hor_2021</text>
<line x1="1727.5" y1="211" x2="1954.3" y2="211" stroke="#00ff00" stroke-width="11.5"/>
<circle cx="1840" cy="211" r="8.2" fill="#00ff00"/>
<text class="k" transform="translate(1970.5,239.3) scale(1,1.035)">Ver_2021</text>
<line x1="1727.5" y1="298" x2="1954.3" y2="298" stroke="#ff0000" stroke-width="11.5"/>
<circle cx="1840" cy="298" r="8.2" fill="#ff0000"/>
<text class="k" transform="translate(1970.5,329.3) scale(1,1.035)">Hor_2024</text>
<line x1="1727.5" y1="387.5" x2="1954.3" y2="387.5" stroke="#0000ff" stroke-width="11.5"/>
<circle cx="1840" cy="387.5" r="8.2" fill="#0000ff"/>
<text class="k" transform="translate(1970.5,419.3) scale(1,1.035)">Ver_2024</text>
</g>
</svg>
</body>
</html>
